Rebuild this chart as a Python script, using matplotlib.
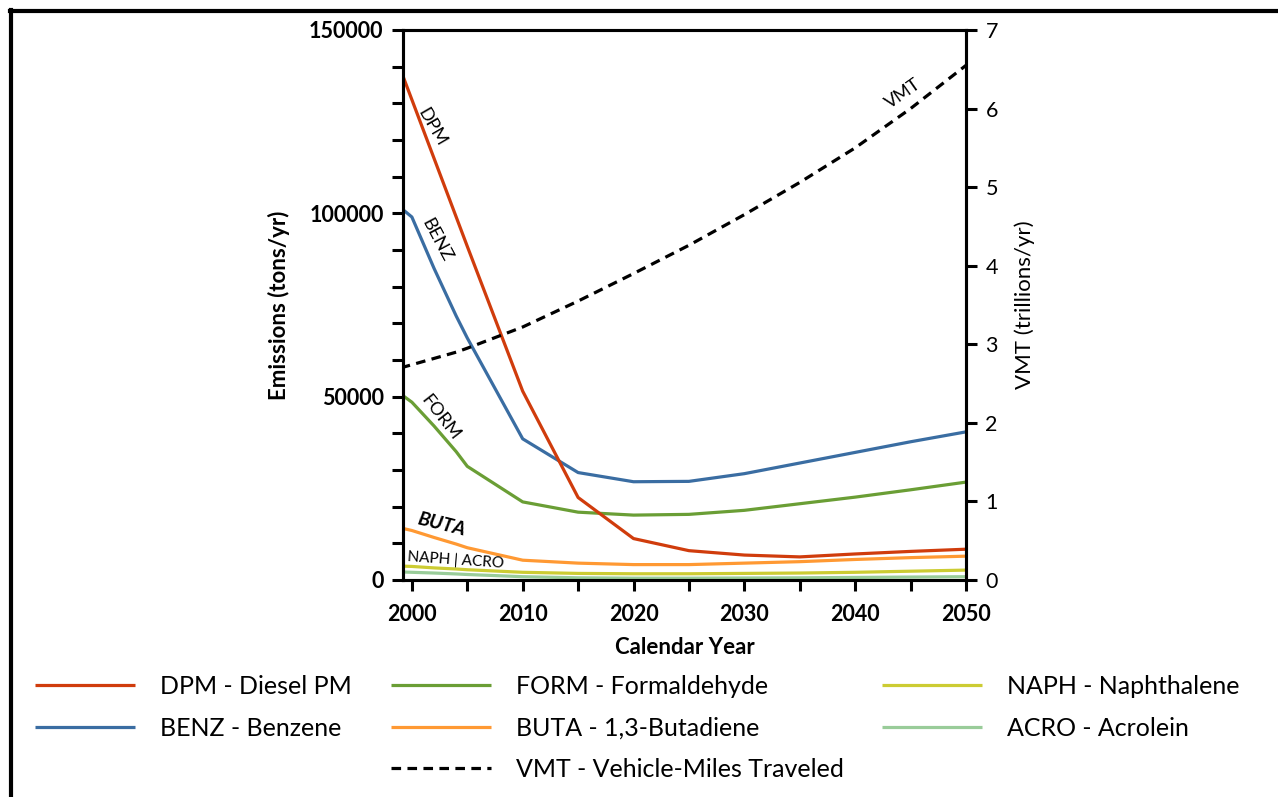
import matplotlib
matplotlib.use("Agg")
import matplotlib.pyplot as plt
from matplotlib.lines import Line2D
from matplotlib.ticker import MultipleLocator

plt.rcParams['font.family'] = ['Lato', 'DejaVu Sans']

years = [1999, 2000, 2002, 2004, 2005, 2010, 2015, 2020, 2025, 2030, 2035, 2040, 2045, 2050]
dpm  = [139000, 131000, 115000, 99000, 91000, 51500, 22500, 11300, 8000, 6800, 6300, 7100, 7800, 8400]
benz = [101500, 99000, 85000, 72000, 66000, 38500, 29300, 26800, 26900, 29000, 31900, 34800, 37700, 40400]
form = [50700, 48500, 42000, 35000, 31000, 21300, 18500, 17700, 17900, 19000, 20800, 22600, 24600, 26700]
buta = [14200, 13500, 11600, 9800, 8800, 5400, 4600, 4200, 4200, 4600, 5000, 5600, 6100, 6500]
naph = [3800, 3700, 3300, 3000, 2800, 2100, 1800, 1700, 1700, 1800, 1900, 2100, 2400, 2700]
acro = [2200, 2100, 1900, 1650, 1500, 900, 600, 500, 500, 550, 600, 700, 800, 900]
vmt  = [2.70, 2.74, 2.82, 2.90, 2.95, 3.22, 3.55, 3.90, 4.26, 4.65, 5.06, 5.50, 6.00, 6.55]

series = [
    ("DPM - Diesel PM", dpm, "#D03C0C"),
    ("BENZ - Benzene", benz, "#3A6DA2"),
    ("FORM - Formaldehyde", form, "#6A9E35"),
    ("BUTA - 1,3-Butadiene", buta, "#FF9933"),
    ("NAPH - Naphthalene", naph, "#CCCC33"),
    ("ACRO - Acrolein", acro, "#99CC99"),
]

W, H = 1278, 797
fig = plt.figure(figsize=(W / 100, H / 100), dpi=100)
ax = fig.add_axes([403 / W, (H - 580) / H, 563 / W, 550 / H])
ax2 = ax.twinx()

handles = {}
for name, vals, col in series[::-1]:
    h, = ax.plot(years, vals, color=col, lw=2.3, solid_capstyle='butt')
    handles[name] = h
hv, = ax2.plot(years, vmt, color='black', lw=2.3, ls=(0, (3, 2)))

ax.set_xlim(1999.2, 2050)
ax.set_ylim(0, 150000)
ax2.set_ylim(0, 7)
ax.xaxis.set_major_locator(MultipleLocator(10))
ax.xaxis.set_minor_locator(MultipleLocator(5))
ax.yaxis.set_major_locator(MultipleLocator(50000))
ax.yaxis.set_minor_locator(MultipleLocator(10000))
ax2.yaxis.set_major_locator(MultipleLocator(1))

for a in (ax, ax2):
    for s in a.spines.values():
        s.set_linewidth(2.2)
    a.tick_params(which='both', direction='out', width=2.2, length=8, labelsize=15.5)
ax.tick_params(axis='x', pad=9)
ax.tick_params(axis='y', pad=6)
ax2.tick_params(axis='y', pad=6)
for lab in ax.get_xticklabels() + ax.get_yticklabels():
    lab.set_fontweight('bold')

ax.set_xlabel("Calendar Year", fontsize=16, fontweight='bold', labelpad=9)
ax.set_ylabel("Emissions (tons/yr)", fontsize=16, fontweight='bold', labelpad=14)
ax2.set_ylabel("VMT (trillions/yr)", fontsize=16, labelpad=12)

# inline labels
ax.text(2001.8, 123500, "DPM", rotation=-60, ha='center', va='center', fontsize=13)
ax.text(2002.2, 92700, "BENZ", rotation=-62, ha='center', va='center', fontsize=13)
ax.text(2002.6, 44200, "FORM", rotation=-52, ha='center', va='center', fontsize=13)
ax.text(2002.7, 15000, "BUTA", rotation=-14, ha='center', va='center', fontsize=14,
        fontweight='bold', style='italic')
ax.text(2004.0, 5300, "NAPH | ACRO", rotation=-4, ha='center', va='center', fontsize=11)
ax2.text(2044.3, 6.19, "VMT", rotation=35, ha='center', va='center', fontsize=13)

blank = Line2D([], [], color='none')
leg_h = [handles["DPM - Diesel PM"], handles["BENZ - Benzene"], blank,
         handles["FORM - Formaldehyde"], handles["BUTA - 1,3-Butadiene"], hv,
         handles["NAPH - Naphthalene"], handles["ACRO - Acrolein"], blank]
leg_l = ["DPM - Diesel PM", "BENZ - Benzene", "",
         "FORM - Formaldehyde", "BUTA - 1,3-Butadiene", "VMT - Vehicle-Miles Traveled",
         "NAPH - Naphthalene", "ACRO - Acrolein", ""]
fig.legend(leg_h, leg_l, ncol=3, loc='upper left', bbox_to_anchor=(35 / W, 1 - 675 / H),
           frameon=False, fontsize=18, handlelength=4.0, handletextpad=1.0,
           columnspacing=1.55, labelspacing=0.74, borderaxespad=0, borderpad=0)

# figure frame (top and left edges)
fig.add_artist(Line2D([10 / W, 1.0], [1 - 11 / H, 1 - 11 / H], transform=fig.transFigure,
                      color='black', lw=3))
fig.add_artist(Line2D([11 / W, 11 / W], [0, 1 - 10 / H], transform=fig.transFigure,
                      color='black', lw=3))

fig.savefig("out.png", dpi=100, facecolor='white')
